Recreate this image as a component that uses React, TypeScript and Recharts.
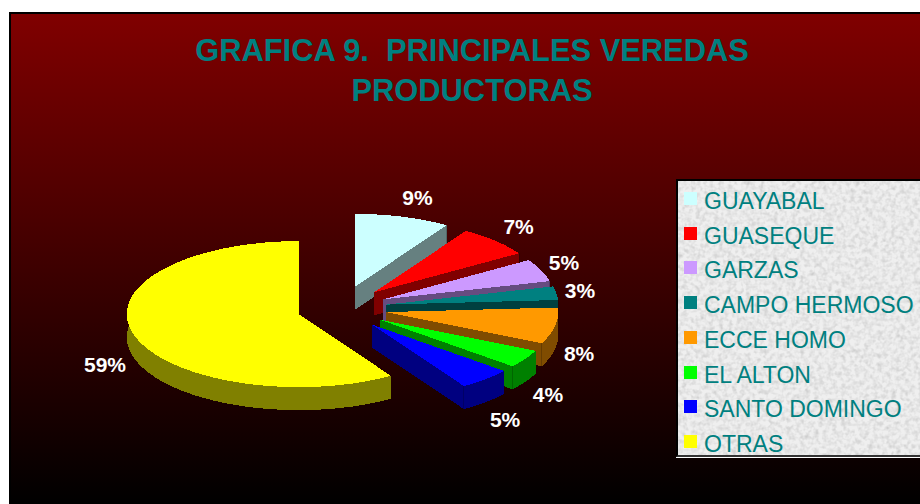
import { Legend, Pie, PieChart } from 'recharts';

const categories = ['GUAYABAL', 'GUASEQUE', 'GARZAS', 'CAMPO HERMOSO', 'ECCE HOMO', 'EL ALTON', 'SANTO DOMINGO', 'OTRAS'];
const shares = [9, 7, 5, 3, 8, 4, 5, 59];
const sliceColors = ['#CCFFFF', '#FF0000', '#CC99FF', '#008080', '#FF9900', '#00FF00', '#0000FF', '#FFFF00'];
const wallColors = ['#668080', '#800000', '#664C80', '#004040', '#804C00', '#008000', '#000080', '#808000'];

const chartData = categories.map((name, i) => ({ name, value: shares[i], fill: sliceColors[i], wall: wallColors[i] }));

const FONT = '"Liberation Sans", Arial, sans-serif';
const SQUASH = 73 / 172; // tilt of the pie
const DEPTH = 23;
const EXPLODE_X = 45;
const EXPLODE_Y = 22;

const rad = (a: number) => (a * Math.PI) / 180;

// Tilted, exploded slice with its side walls
const Slice3D = (props: any) => {
  const { cx, cy, outerRadius, startAngle, endAngle, fill, payload } = props;
  const mid = rad((startAngle + endAngle) / 2);
  const ox = cx + EXPLODE_X * Math.cos(mid);
  const oy = cy - EXPLODE_Y * Math.sin(mid);
  const steps = Math.ceil(Math.abs(endAngle - startAngle) / 2);
  const arc: [number, number][] = [];
  for (let i = 0; i <= steps; i++) {
    const a = rad(startAngle + ((endAngle - startAngle) * i) / steps);
    arc.push([ox + outerRadius * Math.cos(a), oy - outerRadius * SQUASH * Math.sin(a)]);
  }
  const pts = (list: [number, number][]) => list.map((p) => `${p[0].toFixed(1)},${p[1].toFixed(1)}`).join(' ');
  const first = arc[0];
  const last = arc[arc.length - 1];
  const wall = payload?.wall ?? props.wall;
  const band = [...arc, ...[...arc].reverse().map((p) => [p[0], p[1] + DEPTH] as [number, number])];
  return (
    <g shapeRendering="crispEdges">
      <polygon points={pts(band)} fill={wall} />
      <polygon points={pts([[ox, oy], first, [first[0], first[1] + DEPTH], [ox, oy + DEPTH]])} fill={wall} />
      <polygon points={pts([[ox, oy], last, [last[0], last[1] + DEPTH], [ox, oy + DEPTH]])} fill={wall} />
      <line x1={last[0]} y1={last[1]} x2={last[0]} y2={last[1] + DEPTH} stroke="#000" strokeOpacity={0.2} />
      <polygon points={pts([[ox, oy], ...arc])} fill={fill} />
    </g>
  );
};

const PercentLabel = (props: any) => {
  const { cx, cy, midAngle, value } = props;
  const a = rad(midAngle);
  const s = Math.sin(a);
  const c = Math.cos(a);
  const rx = 197 + (s > 0 ? 35 * s * s * s * s : 10 * s * s) + (c < 0 ? 5 : 0);
  const x = cx + (44 + rx) * c;
  const y = cy - 116 * s + (s < 0 ? DEPTH : 0) + 1;
  return (
    <text x={x} y={y} fill="#FFFFFF" textAnchor="middle" dominantBaseline="central" fontFamily={FONT} fontWeight={700} fontSize={21}>
      {value}%
    </text>
  );
};

const LegendBox = ({ payload }: any) => (
  <div style={{ position: 'relative', width: 244, height: 278, overflow: 'hidden', boxSizing: 'border-box', borderTop: '2px solid #000', borderLeft: '2px solid #000', borderBottom: '2px solid #333' }}>
    <svg width={244} height={278} style={{ position: 'absolute', left: 0, top: 0 }}>
      <filter id="grain" x="0" y="0" width="100%" height="100%">
        <feTurbulence type="fractalNoise" baseFrequency="0.22" numOctaves={2} seed={4} />
        <feColorMatrix type="matrix" values="0 0 0 0 0.3  0 0 0 0 0.3  0 0 0 0 0.3  0.5 0.5 0 0 -0.42" />
      </filter>
      <rect width={244} height={278} fill="#EFEFEF" />
      <rect width={244} height={278} filter="url(#grain)" />
    </svg>
    {(payload ?? []).map((entry: any, i: number) => (
      <div key={entry.value} style={{ position: 'absolute', left: 0, top: 3 + i * 34.7, height: 34.7, width: 242 }}>
        <span style={{ position: 'absolute', left: 6, top: 8, width: 13, height: 13, background: entry.color }} />
        <span style={{ position: 'absolute', left: 26, top: 0, lineHeight: '34.7px', fontSize: 23, fontFamily: FONT, color: '#008080', whiteSpace: 'nowrap' }}>
          {entry.value}
        </span>
      </div>
    ))}
  </div>
);

export default function App() {
  return (
    <div style={{ position: 'absolute', left: 0, top: 0, width: 920, height: 504, background: '#fff', overflow: 'hidden' }}>
      <div style={{ position: 'absolute', left: 9, top: 12, width: 909, height: 490, borderLeft: '2px solid #000', borderTop: '2px solid #000', background: 'linear-gradient(#800000, #000000)' }} />
      <div style={{ position: 'absolute', left: 22, top: 31, width: 900, textAlign: 'center', color: '#008080', fontFamily: FONT, fontWeight: 700, fontSize: 30.85, lineHeight: '40px', whiteSpace: 'pre' }}>
        {'GRAFICA 9.  PRINCIPALES VEREDAS\nPRODUCTORAS'}
      </div>
      <div style={{ position: 'absolute', left: 676, top: 457, width: 244, height: 1, background: '#fff' }} />
      <div style={{ position: 'absolute', left: 0, top: 0 }}>
        <PieChart width={920} height={504} margin={{ top: 0, right: 0, bottom: 0, left: 0 }}>
          <Pie
            data={chartData}
            dataKey="value"
            nameKey="name"
            cx={342}
            cy={308}
            outerRadius={172}
            startAngle={90}
            endAngle={-270}
            stroke="none"
            shape={Slice3D}
            label={PercentLabel}
            labelLine={false}
            isAnimationActive={false}
          />
          <Legend
            layout="vertical"
            align="right"
            verticalAlign="top"
            itemSorter={null}
            content={LegendBox}
            wrapperStyle={{ position: 'absolute', left: 676, top: 179, width: 244, height: 278, right: 'auto', bottom: 'auto' }}
          />
        </PieChart>
      </div>
    </div>
  );
}
